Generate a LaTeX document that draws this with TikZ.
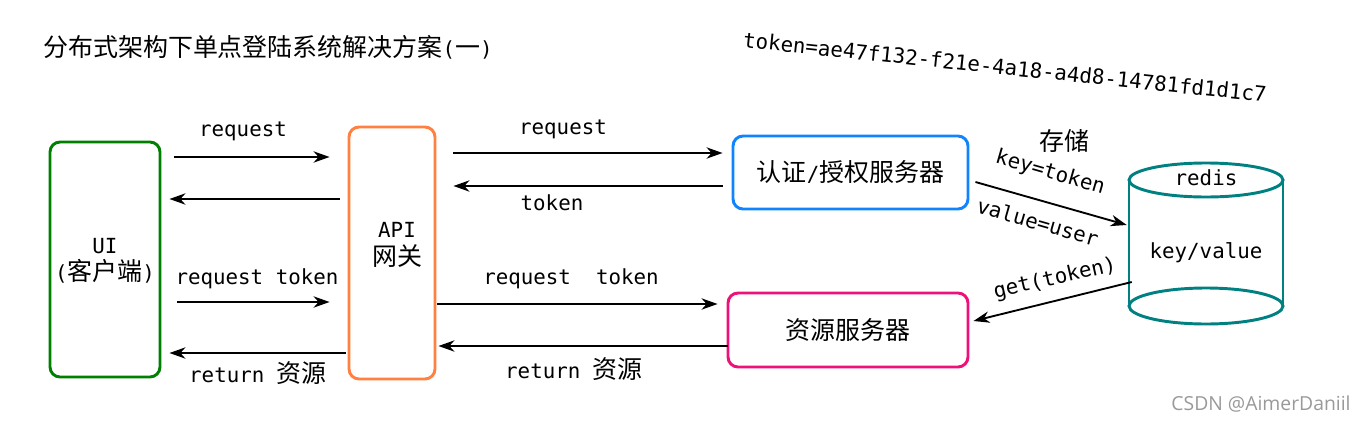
\documentclass[tikz,border=0pt]{standalone}
\usepackage{fontspec}
\setmainfont{DejaVu Sans Mono}
\newfontfamily\cjk[Scale=1.2]{Noto Sans CJK SC}
\newfontfamily\wmfont{Open Sans}
\usetikzlibrary{arrows.meta,calc}
\definecolor{cgreen}{RGB}{0,128,0}
\definecolor{corange}{RGB}{255,128,64}
\definecolor{cblue}{RGB}{16,132,255}
\definecolor{cpink}{RGB}{238,17,122}
\definecolor{cteal}{RGB}{0,128,128}
\newcommand\zh[1]{{\cjk #1}}
\begin{document}
\begin{tikzpicture}[x=0.75pt,y=-0.75pt,
  box/.style={draw, line width=2.2pt, rounded corners=7.5pt, inner sep=0pt},
  arr/.style={-{Stealth[length=12pt,width=8.5pt,inset=3.8pt]}, line width=1.4pt},
  lbl/.style={font=\fontsize{15.6pt}{20.5pt}\selectfont, inner sep=0pt, align=center},
]
\useasboundingbox (0,0) rectangle (1365,422);

% title and token text
\node[lbl, anchor=west] (title) at (43,47) {\zh{分布式架构下单点登陆系统解决方案}(\zh{一})};
\node[lbl, rotate=-6] (tok) at (1005,67) {token=ae47f132-f21e-4a18-a4d8-14781fd1d1c7};

% boxes
\node[box, cgreen, minimum width=82.5pt, minimum height=176.25pt] (ui) at (105,259.5) {};
\node[box, corange, minimum width=64.5pt, minimum height=189pt] (api) at (392,253) {};
\node[box, cblue, minimum width=176.25pt, minimum height=54.75pt] (auth) at (850.5,172.5) {};
\node[box, cpink, minimum width=180pt, minimum height=55.5pt] (res) at (848,330) {};

\node[lbl] (uit) at (105,261) {UI\\(\zh{客户端})};
\node[lbl] (apit) at (397,245) {API\\\zh{网关}};
\node[lbl] (autht) at (auth) {\zh{认证}/\zh{授权服务器}};
\node[lbl] (rest) at (res) {\zh{资源服务器}};

% redis cylinder
\draw[cteal, line width=2.2pt] (1129,180) -- (1129,306) (1283,180) -- (1283,306);
\draw[cteal, line width=2.2pt] (1206,180) ellipse [x radius=57.75pt, y radius=12.75pt];
\draw[cteal, line width=2.2pt] (1206,306) ellipse [x radius=57.75pt, y radius=13.5pt];
\node[inner sep=0pt, minimum width=114pt, minimum height=114pt] (redis) at (1206,240) {};
\node[lbl] (redist) at (1206,178) {redis};
\node[lbl] (kvt) at (1206,253) {key/value};

% UI <-> API
\draw[arr] ($(ui.east|-0,157)+(13,0)$) -- ($(api.west|-0,157)+(-18,0)$);
\draw[arr] ($(api.west|-0,199)+(-8,0)$) -- ($(ui.east|-0,199)+(8,0)$);
\draw[arr] ($(ui.east|-0,302)+(16,0)$) -- ($(api.west|-0,302)+(-18,0)$);
\draw[arr] ($(api.west|-0,353)+(-2,0)$) -- ($(ui.east|-0,353)+(8,0)$);
\node[lbl] (l1) at (243,131) {request};
\node[lbl] (l3) at (257,279) {request token};
\node[lbl] (l4) at (258,373) {return \zh{资源}};

% API <-> servers
\draw[arr] ($(api.east|-0,153)+(17,0)$) -- ($(auth.west|-0,153)+(-9,0)$);
\draw[arr] ($(auth.west|-0,186)+(-9,0)$) -- ($(api.east|-0,186)+(17,0)$);
\draw[arr] ($(api.east|-0,304)+(1,0)$) -- ($(res.west|-0,304)+(-9,0)$);
\draw[arr] ($(res.west|-0,346)+(1,0)$) -- ($(api.east|-0,346)+(2,0)$);
\node[lbl] (l5) at (563,129) {request};
\node[lbl] (l6) at (552,203) {token};
\node[lbl] (l7) at (571,279) {request\ \ token};
\node[lbl] (l8) at (574,369) {return \zh{资源}};

% auth -> redis, redis -> res
\coordinate (k1) at ($(auth.east)+(6,9.5)$);
\coordinate (k2) at ($(redis.west)+(-3,-15)$);
\draw[arr] (k1) -- (k2);
\coordinate (g1) at ($(redis.west)+(2,42)$);
\coordinate (g2) at ($(res.east)+(4,-9)$);
\draw[arr] (g1) -- (g2);
\node[lbl] (l9) at (1064,141) {\zh{存储}};
\node[lbl, rotate=-16] (l10) at (1050,173) {key=token};
\node[lbl, rotate=-16] (l11) at (1038,222) {value=user};
\node[lbl, rotate=13] (l12) at (1055,279) {get(token)};

% watermark
\node[text=black!40, font=\wmfont\fontsize{14.5pt}{16pt}\selectfont, inner sep=0pt] (wm) at (1261,404) {CSDN @AimerDaniil};
\end{tikzpicture}
\end{document}
